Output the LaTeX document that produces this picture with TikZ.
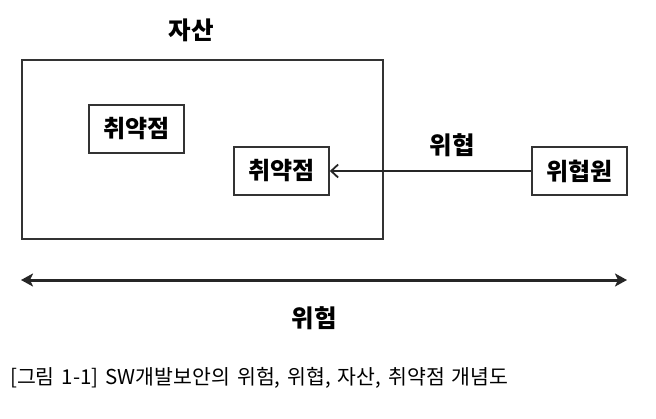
\documentclass[tikz,border=0pt]{standalone}
\usepackage{fontspec}
\setmainfont{Noto Sans CJK KR}
\usetikzlibrary{arrows.meta}
\begin{document}
\begin{tikzpicture}[x=1pt,y=-1pt,
  kasten/.style={draw=black!80,line width=1.6pt,minimum width=95pt,minimum height=48pt,inner sep=0pt,font=\bfseries\fontsize{24}{24}\selectfont},
  titel/.style={font=\bfseries\fontsize{24.5}{24.5}\selectfont}]
\useasboundingbox (0,0) rectangle (656,418);
% Bereich
\node[draw=black!80,line width=1.8pt,minimum width=361pt,minimum height=179pt,inner sep=0pt] (asset) at (202.5,149.5) {};
\node[titel] (assetlabel) at (191,30) {자산};

% Knoten
\node[kasten] (vuln1) at (136.5,129) {취약점};
\node[kasten] (vuln2) at (281.5,171) {취약점};
\node[kasten] (source) at (579.5,171) {위협원};

% Verbindungen
\draw[line width=1.8pt,black!85,-{Straight Barb[length=7pt,width=13pt]}] (source) -- (vuln2);
\node[titel] (threat) at (452,145) {위협};

\coordinate (riskL) at (21,280);
\coordinate (riskR) at (627,280);
\draw[line width=3pt,black!85,{Stealth[length=12pt,width=13pt,inset=3pt]}-{Stealth[length=12pt,width=13pt,inset=3pt]}] (riskL) -- (riskR);
\node[titel] (risk) at (314,318) {위험};

% Beschriftung
\node[anchor=west,font=\fontsize{20.5}{20.5}\selectfont,inner sep=0pt] (caption) at (10,378) {\spaceskip=7pt [그림 1-1] SW개발보안의 위험, 위협, 자산, 취약점 개념도};
\end{tikzpicture}
\end{document}
